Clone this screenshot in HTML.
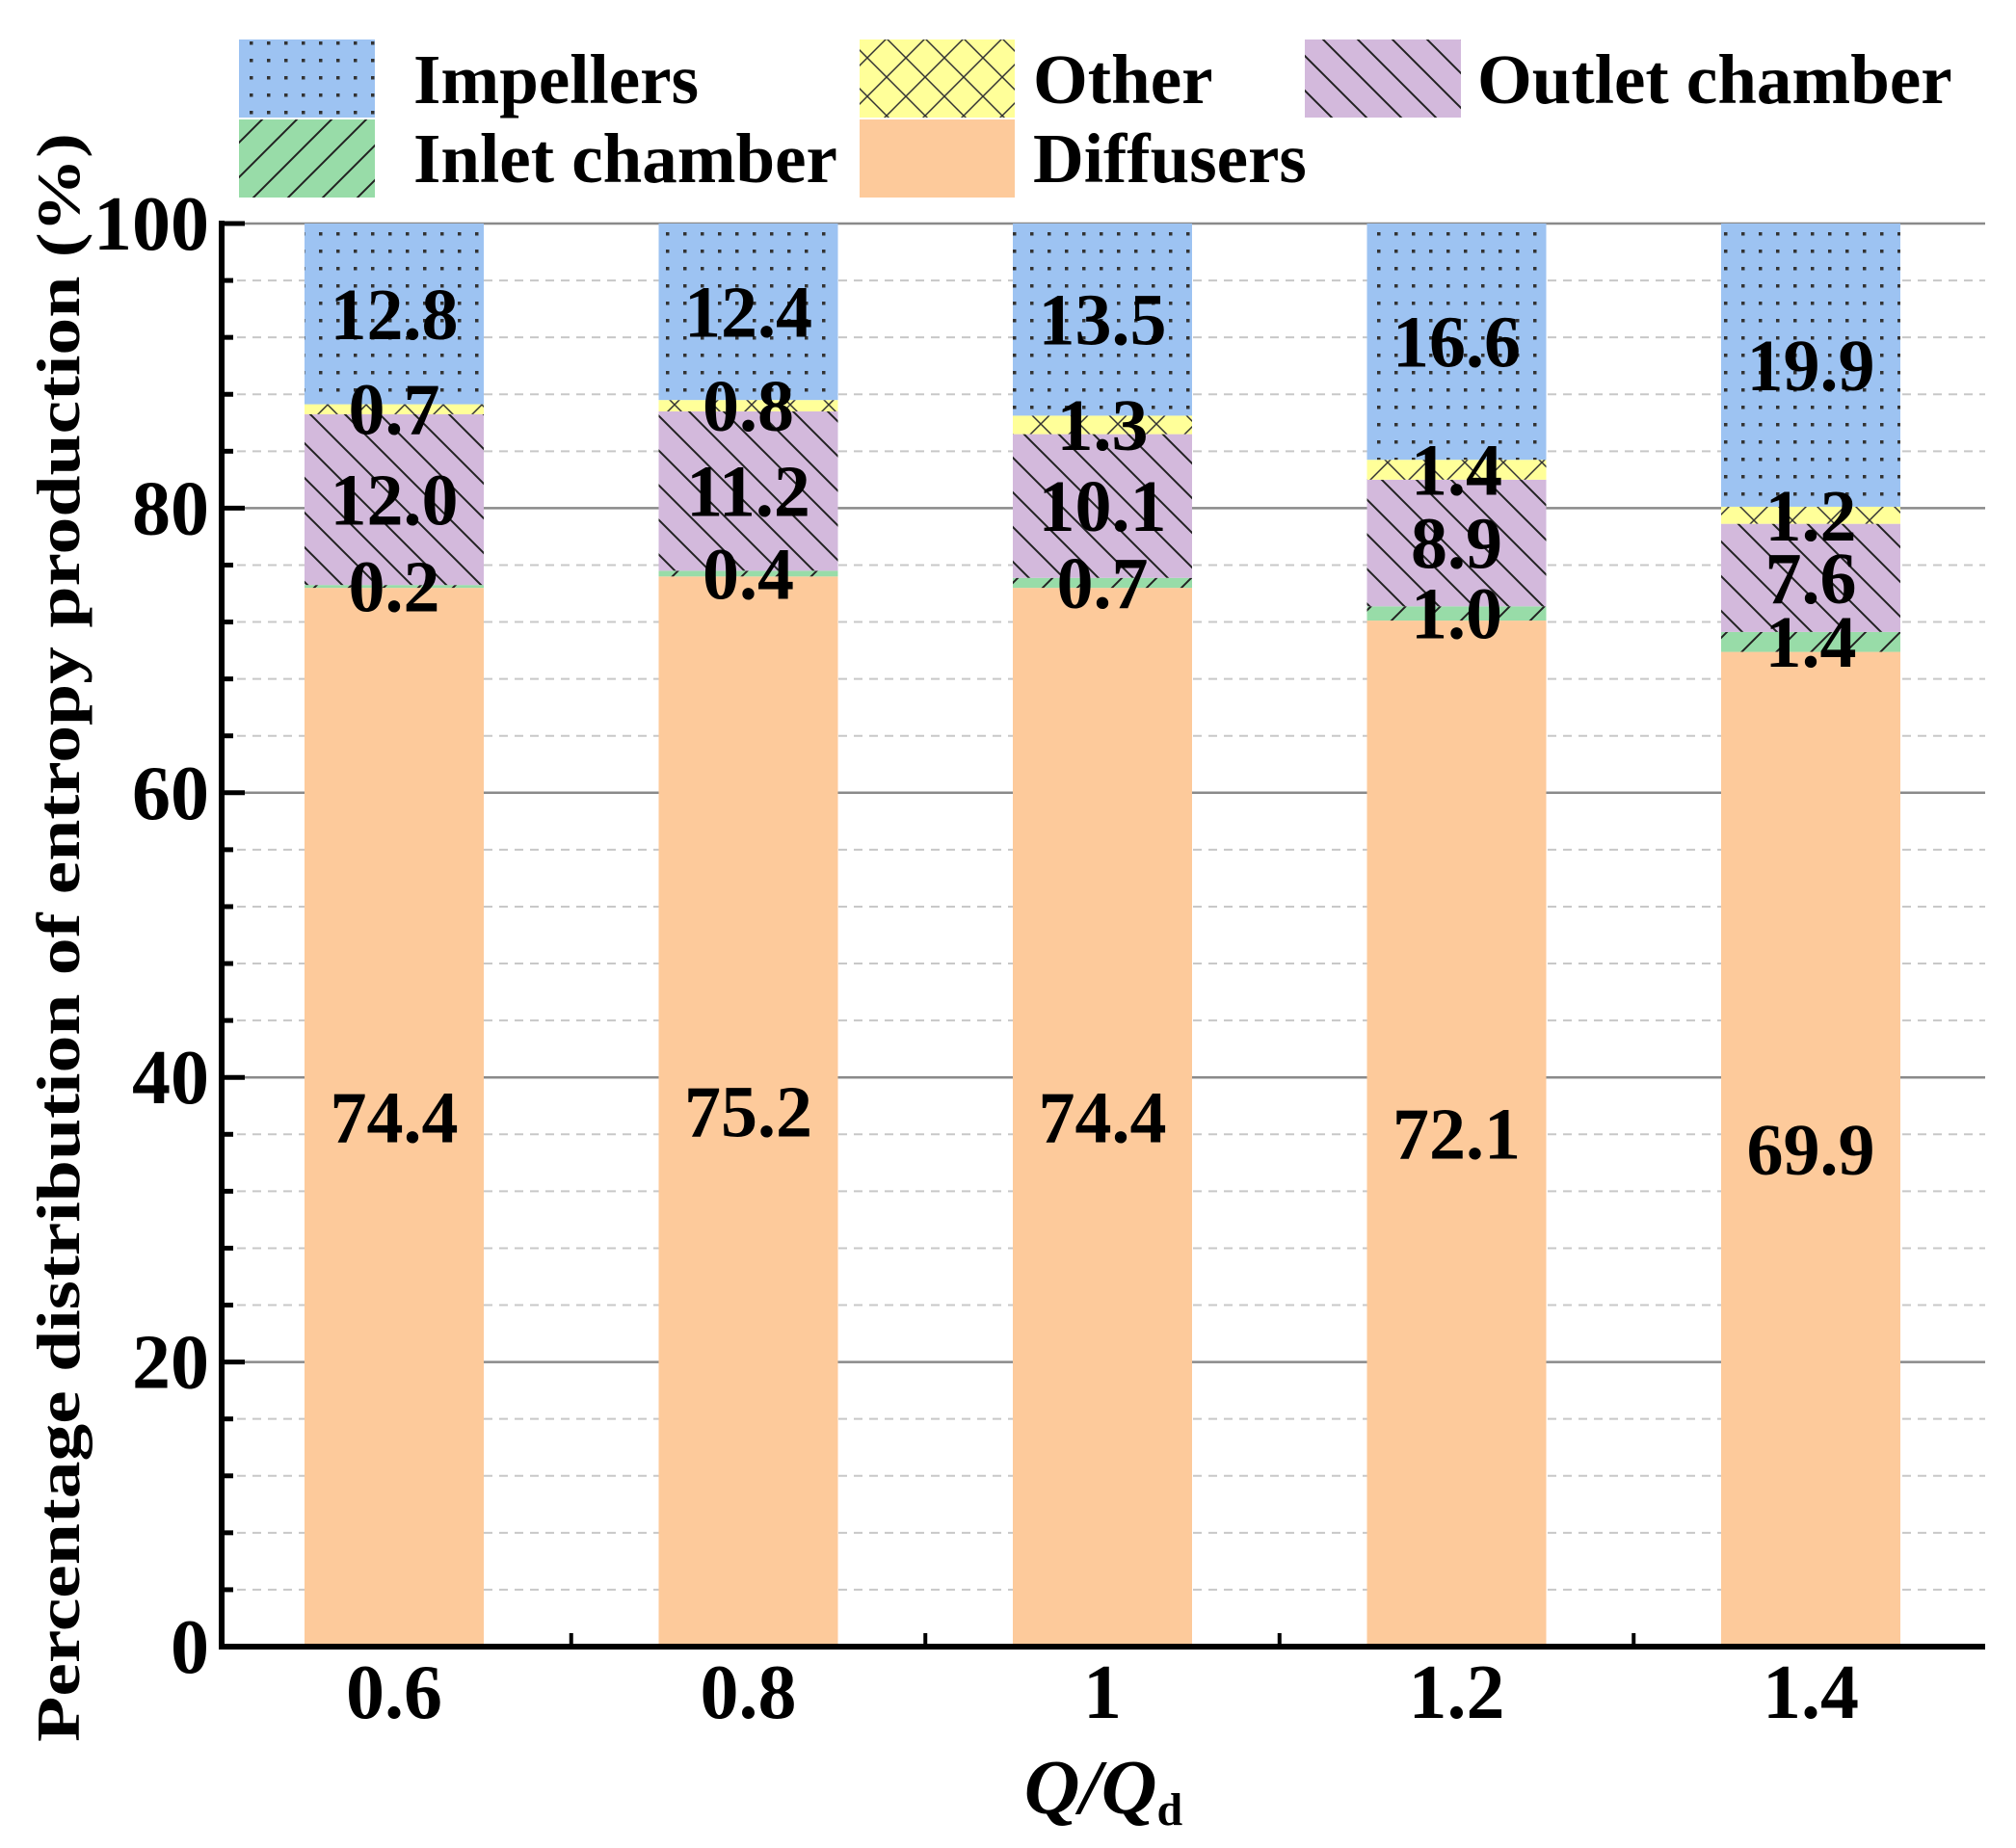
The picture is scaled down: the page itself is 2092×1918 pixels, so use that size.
<!DOCTYPE html>
<html><head><meta charset="utf-8"><style>
html,body{margin:0;padding:0;background:#fff;}
svg{display:block;font-family:"Liberation Serif",serif;font-weight:bold;}
</style></head><body>
<svg id="chart" width="2092" height="1918" viewBox="0 0 2092 1918">
<defs>
<pattern id="p-dots" width="18" height="18" patternUnits="userSpaceOnUse"><rect width="18" height="18" fill="#9dc3f2"/><rect x="7" y="7" width="3.5" height="3.5" fill="#333"/></pattern>
<pattern id="p-cross" width="40" height="40" patternUnits="userSpaceOnUse"><rect width="40" height="40" fill="#ffff99"/><path d="M0 0L40 40M40 0L0 40" stroke="#333" stroke-width="1.5"/></pattern>
<pattern id="p-back" width="36" height="36" patternUnits="userSpaceOnUse"><rect width="36" height="36" fill="#d3b9dc"/><path d="M-9 27L9 45M0 0L36 36M27 -9L45 9" stroke="#222" stroke-width="2"/></pattern>
<pattern id="p-fwd" width="36" height="36" patternUnits="userSpaceOnUse"><rect width="36" height="36" fill="#98dca8"/><path d="M-9 9L9 -9M0 36L36 0M27 45L45 27" stroke="#222" stroke-width="2"/></pattern>
</defs>
<g id="grid"></g><g id="bars"></g><g id="labels"></g><g id="axes"></g>
<g>
<rect x="248" y="41" width="141" height="81" fill="url(#p-dots)"/>
<text x="429" y="107" font-size="73">Impellers</text>
<rect x="248" y="124" width="141" height="81" fill="url(#p-fwd)"/>
<text x="429" y="189" font-size="73">Inlet chamber</text>
<rect x="892" y="41" width="161" height="81" fill="url(#p-cross)"/>
<text x="1072" y="107" font-size="73">Other</text>
<rect x="892" y="124" width="161" height="81" fill="#fdca9b"/>
<text x="1072" y="189" font-size="73">Diffusers</text>
<rect x="1354" y="41" width="162" height="81" fill="url(#p-back)"/>
<text x="1533" y="107" font-size="73">Outlet chamber</text>
</g>
<text transform="translate(82,973) rotate(-90)" text-anchor="middle" font-size="64" textLength="1670" lengthAdjust="spacingAndGlyphs">Percentage distribution of entropy production (%)</text>
<text x="1145" y="1882" text-anchor="middle" font-size="80" font-style="italic">Q/Q<tspan font-size="48" font-style="normal" dy="12">d</tspan></text>
</svg>
<script>
const categories=["0.6","0.8","1","1.2","1.4"];
const diffusers=[74.4,75.2,74.4,72.1,69.9];
const inlet=[0.2,0.4,0.7,1.0,1.4];
const outlet=[12.0,11.2,10.1,8.9,7.6];
const other=[0.7,0.8,1.3,1.4,1.2];
const impellers=[12.8,12.4,13.5,16.6,19.9];
const yTicks=[0,20,40,60,80,100];
const NS="http://www.w3.org/2000/svg";
const X0=230,X1=2060,Y0=1709,Y100=232;
const y=v=>Y0-(v/100)*(Y0-Y100);
const step=367.5,bw=186;
const xc=i=>409+i*step;
function mk(t,a,p){const e=document.createElementNS(NS,t);for(const k in a)e.setAttribute(k,a[k]);p.appendChild(e);return e;}
const grid=document.getElementById('grid'),bars=document.getElementById('bars'),labels=document.getElementById('labels'),axes=document.getElementById('axes');
for(let v=4;v<=100;v+=4){
 const major=v%20===0;
 const l=mk('line',{x1:X0,x2:X1,y1:y(v),y2:y(v),stroke:major?'#8a8a8a':'#c8c8c8','stroke-width':major?2.5:2,'stroke-dasharray':major?'none':'9 7'},grid);
 
 
}
const series=[[diffusers,'#fdca9b','diffusers'],[inlet,'url(#p-fwd)','inlet'],[outlet,'url(#p-back)','outlet'],[other,'url(#p-cross)','other'],[impellers,'url(#p-dots)','impellers']];
categories.forEach((c,i)=>{
 let base=0;
 series.forEach(([arr,fill,name])=>{
  const v=arr[i];const top=Math.min(100,base+v);
  const r=mk('rect',{x:xc(i)-bw/2,y:y(top),width:bw,height:Math.max(0,y(base)-y(top)),fill:fill},bars);
  
  
  const t=mk('text',{x:xc(i),y:(y(base)+y(top))/2+26,'text-anchor':'middle','font-size':76},labels);
  t.textContent=v.toFixed(1);
  
  
  base=top;
 });
 const tl=mk('text',{x:xc(i),y:1783,'text-anchor':'middle','font-size':80},axes);
 tl.textContent=c;
 
 
 if(i<categories.length-1){
  const tk=mk('line',{x1:xc(i)+step/2,x2:xc(i)+step/2,y1:Y0,y2:Y0-14,stroke:'#000','stroke-width':4},axes);
  
  
 }
}
);
for(let v=0;v<=100;v+=4){
 const major=v%20===0;
 const tk=mk('line',{x1:X0,x2:X0+(major?24:12),y1:y(v),y2:y(v),stroke:'#000','stroke-width':5},axes);
 
 
}
yTicks.forEach(v=>{
 const t=mk('text',{x:217,y:y(v)+27,'text-anchor':'end','font-size':80},axes);
 t.textContent=v;
 
 
});
const ya=mk('line',{x1:X0,x2:X0,y1:Y100-3,y2:Y0+3,stroke:'#000','stroke-width':6},axes);


const xa=mk('line',{x1:X0-3,x2:X1,y1:Y0,y2:Y0,stroke:'#000','stroke-width':6},axes);


</script>
</body></html>
